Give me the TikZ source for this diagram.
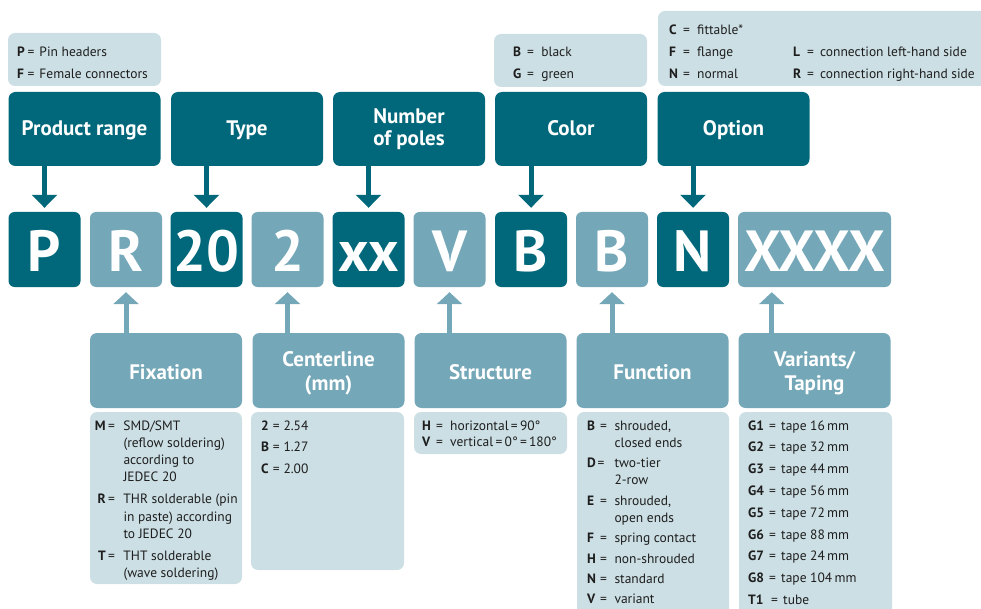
\documentclass[tikz,border=0pt]{standalone}
\usepackage{fontspec}
\setmainfont{PT Sans}
\usetikzlibrary{arrows.meta}
\definecolor{dk}{RGB}{0,104,122}
\definecolor{md}{RGB}{116,167,183}
\definecolor{lt}{RGB}{204,223,228}
\definecolor{tx}{RGB}{30,30,30}
\newcommand{\kv}[5]{\makebox[#1][l]{\textbf{#2}}\makebox[#3][l]{=}#4#5}
\newcommand{\kvr}[2]{\makebox[12.5pt][r]{\textbf{#1}}\hspace{2.5pt}\makebox[15.3pt][l]{=}#2}
\begin{document}
\begin{tikzpicture}[x=1pt,y=-1pt,
 hdr/.style={fill=dk, text=white, rounded corners=7pt, minimum width=152pt, minimum height=74pt, inner sep=0pt, font=\fontsize{21}{22.5}\selectfont\bfseries},
 sub/.style={fill=md, text=white, rounded corners=7pt, minimum width=152pt, minimum height=75pt, inner sep=0pt, font=\fontsize{21}{24.5}\selectfont\bfseries},
 ltr/.style={rounded corners=6pt, minimum width=72pt, minimum height=75pt, inner sep=0pt, text=white, font=\fontsize{58}{60}\selectfont\bfseries, text height=45pt, text depth=0pt},
 dkl/.style={ltr, fill=dk},
 mdl/.style={ltr, fill=md},
 desc/.style={fill=lt, rounded corners=7pt, inner sep=0pt},
 dtext/.style={inner sep=0pt, anchor=base west, text=tx},
 arrdn/.style={draw=dk, line width=5pt, -{Triangle[width=25pt,length=13pt]}, shorten >=4pt},
 arrup/.style={draw=md, line width=5pt, -{Triangle[width=25pt,length=12pt]}, shorten >=5pt},
]
\path[use as bounding box] (0,0) rectangle (981,609);
\clip (0,0) rectangle (981,609);

% top description boxes
\node[desc, minimum width=153pt, minimum height=53pt] (dP) at (84.5,59.5) {};
\node[desc, minimum width=153pt, minimum height=53pt] (dC) at (570.5,60.5) {};
\node[desc, minimum width=340pt, minimum height=75pt] (dO) at (828,48.5) {};

\node[dtext, font=\fontsize{13.5}{21.7}\selectfont] (tP) at (17,56.7)
 {\begin{tabular}[t]{@{}l@{}}\kv{10.3pt}{P}{12pt}{Pin headers}{}\\ \kv{10.3pt}{F}{12pt}{Female connectors}{}\end{tabular}};
\node[dtext, font=\fontsize{13.5}{22}\selectfont] (tC) at (512.8,56.7)
 {\begin{tabular}[t]{@{}l@{}}\kv{14pt}{B}{14.3pt}{black}{}\\ \kv{14pt}{G}{14.3pt}{green}{}\end{tabular}};
\node[dtext, font=\fontsize{13.5}{22}\selectfont] (tO) at (669,34.7)
 {\begin{tabular}[t]{@{}l@{}}\kv{14pt}{C}{14pt}{fittable*}{}\\
 \makebox[124pt][l]{\kv{14pt}{F}{14pt}{flange}{}}\kv{14pt}{L}{13pt}{connection left-hand side}{}\\
 \makebox[124pt][l]{\kv{14pt}{N}{14pt}{normal}{}}\kv{14pt}{R}{13pt}{connection right-hand side}{}\end{tabular}};

% header boxes
\node[hdr, text height=14pt, text depth=1pt] (hP) at (84.5,129) {Product range};
\node[hdr, text height=14pt, text depth=1pt] (hT) at (247,129) {Type};
\node[hdr, text height=20pt, text depth=31.4pt] (hN) at (409,129) {\begin{tabular}[t]{@{}c@{}}Number\\of poles\end{tabular}};
\node[hdr, text height=14pt, text depth=1pt] (hC) at (571,129) {Color};
\node[hdr, text height=14pt, text depth=1pt] (hO) at (733.5,129) {Option};

% letter boxes
\node[dkl] (l1) at (44.5,249.5) {P};
\node[mdl] (l2) at (126,249.5) {R};
\node[dkl] (l3) at (206.5,249.5) {20};
\node[mdl] (l4) at (287.5,249.5) {2};
\node[dkl] (l5) at (368.5,249.5) {xx};
\node[mdl] (l6) at (449.5,249.5) {V};
\node[dkl] (l7) at (531,249.5) {B};
\node[mdl] (l8) at (612,249.5) {B};
\node[dkl] (l9) at (693,249.5) {N};
\node[mdl, minimum width=153pt] (l10) at (814.5,249.5) {XXXX};
\coordinate (l10a) at ([xshift=34pt]l10.south west);

% bottom boxes
\node[sub, text height=19pt, text depth=0.6pt] (bF) at (166,370.5) {Fixation};
\node[sub, text height=20pt, text depth=29pt] (bC) at (328.5,370.5) {\begin{tabular}[t]{@{}c@{}}Centerline\\(mm)\end{tabular}};
\node[sub, text height=19pt, text depth=0.6pt] (bS) at (490.5,370.5) {Structure};
\node[sub, text height=19pt, text depth=0.6pt] (bFn) at (652.5,370.5) {Function};
\node[sub, text height=20pt, text depth=29pt] (bV) at (814.5,370.5) {\begin{tabular}[t]{@{}c@{}}Variants/\\Taping\end{tabular}};

% arrows
\draw[arrdn] (l1.north |- hP.south) -- (l1.north);
\draw[arrdn] (l3.north |- hT.south) -- (l3.north);
\draw[arrdn] (l5.north |- hN.south) -- (l5.north);
\draw[arrdn] (l7.north |- hC.south) -- (l7.north);
\draw[arrdn] (l9.north |- hO.south) -- (l9.north);
\draw[arrup] (l2.south |- bF.north) -- (l2.south);
\draw[arrup] (l4.south |- bC.north) -- (l4.south);
\draw[arrup] (l6.south |- bS.north) -- (l6.south);
\draw[arrup] (l8.south |- bFn.north) -- (l8.south);
\draw[arrup] (l10a |- bV.north) -- (l10a);

% bottom description boxes
\node[desc, minimum width=152pt, minimum height=172pt] (dF) at (166,498) {};
\node[desc, minimum width=153pt, minimum height=158pt] (dCl) at (327.5,491) {};
\node[desc, minimum width=153pt, minimum height=42pt] (dS) at (490.5,433) {};
\node[desc, minimum width=152pt, minimum height=208pt] (dFn) at (653,516) {};
\node[desc, minimum width=153pt, minimum height=208pt] (dV) at (815.5,516) {};

\node[dtext, font=\fontsize{13.5}{17.3}\selectfont] (tF) at (93,430)
 {\begin{tabular}[t]{@{}l@{}}\kvr{M}{SMD/SMT}\\
 \hspace*{30.3pt}(reflow soldering)\\
 \hspace*{30.3pt}according to\\
 \hspace*{30.3pt}JEDEC 20\\[4.7pt]
 \kvr{R}{THR solderable (pin}\\
 \hspace*{30.3pt}in paste) according\\
 \hspace*{30.3pt}to JEDEC 20\\[4.7pt]
 \kvr{T}{THT solderable}\\
 \hspace*{30.3pt}(wave soldering)\end{tabular}};

\node[dtext, font=\fontsize{13.5}{21.5}\selectfont] (tCl) at (261,430)
 {\begin{tabular}[t]{@{}l@{}}\kv{11.7pt}{2}{10.6pt}{2.54}{}\\ \kv{11.7pt}{B}{10.6pt}{1.27}{}\\ \kv{11.7pt}{C}{10.6pt}{2.00}{}\end{tabular}};

\node[dtext, font=\fontsize{13.5}{16.5}\selectfont] (tS) at (422,430)
 {\begin{tabular}[t]{@{}l@{}}\kv{14pt}{H}{14pt}{horizontal\,=\,90°}{}\\ \kv{14pt}{V}{14pt}{vertical\,=\,0°\,=\,180°}{}\end{tabular}};

\node[dtext, font=\fontsize{13.5}{17.3}\selectfont] (tFn) at (587,430)
 {\begin{tabular}[t]{@{}l@{}}\kv{13pt}{B}{14.3pt}{shrouded,}{}\\
 \hspace*{27.3pt}closed ends\\[3pt]
 \kv{10.5pt}{D}{16.8pt}{two-tier}{}\\
 \hspace*{27.3pt}2-row\\[3pt]
 \kv{13pt}{E}{14.3pt}{shrouded,}{}\\
 \hspace*{27.3pt}open ends\\[3pt]
 \kv{13pt}{F}{14.3pt}{spring contact}{}\\[3pt]
 \kv{13pt}{H}{14.3pt}{non-shrouded}{}\\[3pt]
 \kv{13pt}{N}{14.3pt}{standard}{}\\[3pt]
 \kv{13pt}{V}{14.3pt}{variant}{}\end{tabular}};

\node[dtext, font=\fontsize{13.5}{21.8}\selectfont] (tV) at (748,430)
 {\begin{tabular}[t]{@{}l@{}}\kv{21pt}{G1}{12pt}{tape 16\,mm}{}\\
 \kv{21pt}{G2}{12pt}{tape 32\,mm}{}\\
 \kv{21pt}{G3}{12pt}{tape 44\,mm}{}\\
 \kv{21pt}{G4}{12pt}{tape 56\,mm}{}\\
 \kv{21pt}{G5}{12pt}{tape 72\,mm}{}\\
 \kv{21pt}{G6}{12pt}{tape 88\,mm}{}\\
 \kv{21pt}{G7}{12pt}{tape 24\,mm}{}\\
 \kv{21pt}{G8}{12pt}{tape 104\,mm}{}\\
 \kv{23pt}{T1}{12pt}{tube}{}\end{tabular}};
\end{tikzpicture}
\end{document}
